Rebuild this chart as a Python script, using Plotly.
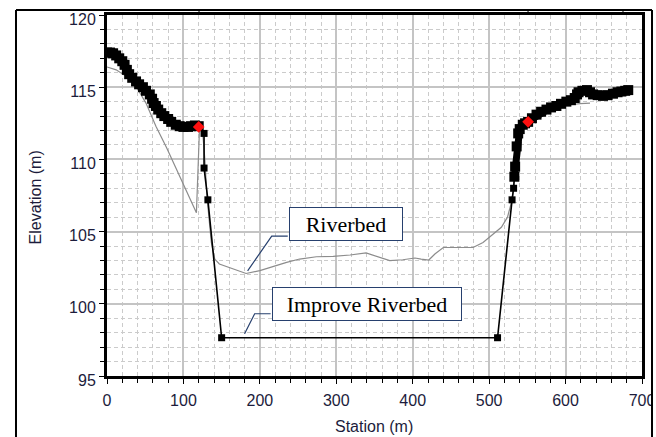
import plotly.graph_objects as go

# ---- data ----
# original riverbed (grey line)
riverbed_x = [0, 12, 25, 38, 51, 64, 78, 91, 104, 117, 121, 125, 128, 131, 136.5, 141, 147,
              165, 182, 200, 217, 235, 252, 274, 296, 318, 339, 353, 370, 387, 403, 411, 421,
              429, 440, 462, 479, 492, 505, 516, 524, 530, 533, 536, 540, 546, 552, 566, 580,
              600, 619, 632]
riverbed_y = [116.4, 116.2, 115.75, 115.05, 113.9, 112.3, 110.8, 109.3, 107.8, 106.3, 112.1,
              112.0, 110.0, 107.3, 104.25, 103.1, 102.76, 102.41, 102.1, 102.3, 102.6, 102.87,
              103.1, 103.26, 103.29, 103.38, 103.52, 103.26, 102.99, 103.05, 103.17, 103.1,
              103.03, 103.45, 103.9, 103.9, 103.9, 104.25, 104.8, 105.3, 106.0, 107.2, 108.5,
              110.5, 111.9, 112.4, 112.6, 113.2, 113.5, 113.75, 113.86, 113.9]

# existing left bank (black, thick)
left_bank_x = [0, 4, 8, 12, 16, 20, 23, 26, 29, 33, 38, 42, 47, 51, 56, 59, 61, 64, 67, 71,
               75, 80, 84, 90, 95, 100, 106, 110, 115, 120]
left_bank_y = [117.4, 117.4, 117.35, 117.2, 117.0, 116.8, 116.55, 116.2, 115.9, 115.65, 115.4,
               115.2, 115.0, 114.75, 114.5, 114.2, 113.9, 113.7, 113.45, 113.2, 113.0, 112.8,
               112.6, 112.4, 112.3, 112.25, 112.25, 112.3, 112.35, 112.3]

# improved channel (black thin line with squares)
improve_x = [121, 127, 127, 132, 150, 511, 530, 532, 533]
improve_y = [112.3, 111.8, 109.4, 107.2, 97.65, 97.65, 107.2, 108.0, 108.8]

# existing right bank (black, thick)
right_bank_x = [533, 534, 536, 538, 540, 544, 547, 551, 556, 562, 568, 575, 581, 588, 594, 601,
                607, 612, 615, 617, 622, 628, 632, 636, 642, 649, 655, 662, 668, 673, 678, 682]
right_bank_y = [108.8, 109.5, 110.9, 111.8, 112.1, 112.4, 112.5, 112.6, 112.85, 113.1, 113.3,
                113.45, 113.6, 113.7, 113.85, 114.0, 114.1, 114.25, 114.5, 114.65, 114.75,
                114.8, 114.65, 114.5, 114.45, 114.4, 114.45, 114.55, 114.65, 114.7, 114.75,
                114.8]

# bank stations (red)
bank_x = [120, 551]
bank_y = [112.25, 112.6]

x_range = [0, 700]
y_range = [95, 120]

TICKFONT = dict(family="Liberation Sans, Arial, sans-serif", size=16, color="#1c1c3c")
NAVY = "#27406e"

fig = go.Figure()

fig.add_trace(go.Scatter(x=riverbed_x, y=riverbed_y, mode="lines",
                         line=dict(color="#8c8c8c", width=1.2), showlegend=False))
for bx, by in [(left_bank_x, left_bank_y), (right_bank_x, right_bank_y)]:
    fig.add_trace(go.Scatter(x=bx, y=by, mode="lines+markers",
                             line=dict(color="black", width=7),
                             marker=dict(symbol="square", size=10, color="black"),
                             showlegend=False))
fig.add_trace(go.Scatter(x=improve_x, y=improve_y, mode="lines+markers",
                         line=dict(color="black", width=1.6),
                         marker=dict(symbol="square", size=7, color="black"),
                         showlegend=False))
fig.add_trace(go.Scatter(x=bank_x, y=bank_y, mode="markers",
                         marker=dict(symbol="diamond", size=9, color="#ff1010"),
                         showlegend=False))

grid_minor = dict(ticks="outside", ticklen=4, tickcolor="black", tickwidth=1,
                  showgrid=True, gridcolor="#cbcbcb", gridwidth=1.3, griddash="4px,3px")

fig.update_xaxes(range=x_range, dtick=100, tick0=0, ticks="outside", ticklen=5,
                 tickcolor="black", tickfont=TICKFONT, showline=True, linecolor="black",
                 linewidth=3, mirror=True, showgrid=True, gridcolor="#c4c4c4", gridwidth=1.5,
                 zeroline=False, ticklabelstandoff=3, automargin=False,
                 minor=dict(dtick=20, **grid_minor))
fig.update_yaxes(range=y_range, dtick=5, tick0=95, ticks="outside", ticklen=5,
                 tickcolor="black", tickfont=TICKFONT, showline=True, linecolor="black",
                 linewidth=3, mirror=True, showgrid=True, gridcolor="#c4c4c4", gridwidth=1.5,
                 zeroline=False, automargin=False, ticklabelshift=4,
                 minor=dict(dtick=1, **grid_minor))

ann_font = dict(family="Liberation Serif, Times New Roman, serif", size=22, color="black")
fig.add_annotation(x=313, y=105.52, xref="x", yref="y", text="Riverbed", showarrow=False,
                   xanchor="center", yanchor="middle",
                   font=ann_font, bgcolor="white", bordercolor=NAVY, borderwidth=1,
                   borderpad=0, width=112, height=32)
fig.add_annotation(x=340, y=100.0, xref="x", yref="y", text="Improve Riverbed",
                   showarrow=False, xanchor="center", yanchor="middle",
                   font=ann_font, bgcolor="white", bordercolor=NAVY,
                   borderwidth=1, borderpad=0, width=188, height=32)

# leader lines
fig.add_shape(type="path", xref="x", yref="y",
              path="M 184,102.28 L 215.5,104.69 L 236.5,104.69",
              line=dict(color=NAVY, width=1.2))
fig.add_shape(type="path", xref="x", yref="y",
              path="M 180,97.93 L 193.2,99.31 L 214.1,99.31",
              line=dict(color=NAVY, width=1.2))

# axis titles
title_font = dict(family="Liberation Sans, Arial, sans-serif", size=16, color="#1c1c3c")
fig.add_annotation(x=-0.1346, y=0.4945, xref="paper", yref="paper", text="Elevation (m)",
                   textangle=-90, showarrow=False, font=title_font,
                   xanchor="center", yanchor="middle")
fig.add_annotation(x=0.499, y=-0.141, xref="paper", yref="paper", text="Station (m)",
                   showarrow=False, font=title_font, xanchor="center", yanchor="middle")

# outer window frame
frame = dict(color="black", width=2)
fig.add_shape(type="line", xref="paper", yref="paper", x0=-0.1701, x1=-0.1701,
              y0=1.0139, y1=-0.2, line=frame, layer="above")
fig.add_shape(type="line", xref="paper", yref="paper", x0=-0.1701, x1=1.0187,
              y0=1.0139, y1=1.0139, line=frame, layer="above")
fig.add_shape(type="rect", xref="paper", yref="paper", x0=1.0206, x1=1.04,
              y0=-0.02, y1=-0.15, line=dict(width=0), fillcolor="white", layer="above")
fig.add_shape(type="line", xref="paper", yref="paper", x0=1.0187, x1=1.0187,
              y0=1.0139, y1=-0.2, line=frame, layer="above")
for xp in [0.172, 0.787, 0.9645]:
    fig.add_shape(type="line", xref="paper", yref="paper", x0=xp, x1=xp,
                  y0=1.0139, y1=1.0, line=dict(color="black", width=1), layer="above")

fig.update_layout(width=656, height=437, margin=dict(l=107, r=14, t=15, b=61),
                  paper_bgcolor="white", plot_bgcolor="white", showlegend=False)

fig.write_html("out.html")
